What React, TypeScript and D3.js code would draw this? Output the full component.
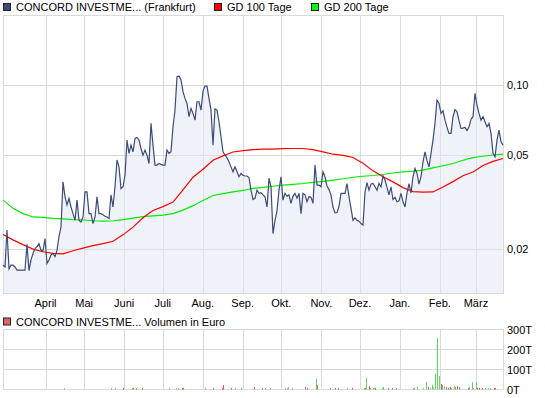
import React, { useEffect, useRef } from 'react';
import * as d3 from 'd3';

// Kurs (Frankfurt), gleichmäßig verteilt vom 27.02.2010 bis 22.03.2011
const prices = [
  0.0171, 0.0168, 0.0241, 0.0165, 0.0171, 0.0171, 0.0168, 0.0163, 0.0163, 0.0163,
  0.0163, 0.0163, 0.0210, 0.0162, 0.0180, 0.0192, 0.0201, 0.0205, 0.0211, 0.0198,
  0.0197, 0.0222, 0.0174, 0.0180, 0.0189, 0.0192, 0.0186, 0.0198, 0.0226, 0.0249,
  0.0386, 0.0334, 0.0308, 0.0329, 0.0302, 0.0283, 0.0265, 0.0323, 0.0265, 0.0261,
  0.0274, 0.0350, 0.0350, 0.0283, 0.0283, 0.0257, 0.0274, 0.0334, 0.0283, 0.0283,
  0.0280, 0.0276, 0.0274, 0.0270, 0.0340, 0.0302, 0.0368, 0.0478, 0.0447, 0.0362,
  0.0368, 0.0412, 0.0581, 0.0510, 0.0553, 0.0518, 0.0590, 0.0596, 0.0581, 0.0535,
  0.0501, 0.0527, 0.0501, 0.0462, 0.0684, 0.0553, 0.0455, 0.0455, 0.0462, 0.0458,
  0.0455, 0.0455, 0.0527, 0.0510, 0.0518, 0.0662, 0.0779, 0.1079, 0.1086, 0.1045,
  0.0932, 0.0873, 0.0831, 0.0730, 0.0792, 0.0754, 0.0706, 0.0845, 0.0845, 0.0779,
  0.0938, 0.0985, 0.0985, 0.0873, 0.0779, 0.0553, 0.0789, 0.0779, 0.0695, 0.0600,
  0.0518, 0.0501, 0.0488, 0.0470, 0.0447, 0.0426, 0.0447, 0.0426, 0.0406, 0.0419,
  0.0412, 0.0409, 0.0409, 0.0403, 0.0356, 0.0325, 0.0329, 0.0356, 0.0345, 0.0347,
  0.0340, 0.0334, 0.0302, 0.0400, 0.0368, 0.0233, 0.0265, 0.0291, 0.0356,
  0.0406, 0.0323, 0.0345, 0.0336, 0.0340, 0.0313, 0.0336, 0.0345, 0.0329, 0.0345,
  0.0283, 0.0345, 0.0340, 0.0318, 0.0334, 0.0332, 0.0313, 0.0455, 0.0374, 0.0374,
  0.0368, 0.0426, 0.0406, 0.0371, 0.0358, 0.0340, 0.0302, 0.0285, 0.0286, 0.0304,
  0.0345, 0.0345, 0.0345, 0.0380, 0.0334, 0.0298, 0.0265, 0.0272, 0.0265, 0.0263,
  0.0257, 0.0253, 0.0350, 0.0383, 0.0356, 0.0378, 0.0380, 0.0368, 0.0356, 0.0380,
  0.0368, 0.0409, 0.0393, 0.0366, 0.0340, 0.0368, 0.0325, 0.0332, 0.0318, 0.0321,
  0.0345, 0.0318, 0.0302, 0.0347, 0.0380, 0.0347, 0.0406, 0.0440, 0.0419, 0.0378,
  0.0406, 0.0470, 0.0518, 0.0475, 0.0447, 0.0510, 0.0581, 0.0684, 0.0859, 0.0831,
  0.0754, 0.0774, 0.0706, 0.0658, 0.0620, 0.0620, 0.0730, 0.0782, 0.0766, 0.0702,
  0.0651, 0.0653, 0.0658, 0.0638, 0.0662, 0.0711, 0.0730, 0.0917, 0.0818, 0.0754,
  0.0706, 0.0730, 0.0695, 0.0662, 0.0684, 0.0620, 0.0510, 0.0493, 0.0581, 0.0640,
  0.0571, 0.0553,
];

// GD 100 Tage / GD 200 Tage, gleichmäßig über den gleichen Zeitraum
const gd100 = [
  0.0231, 0.0219, 0.0209, 0.0200, 0.0195, 0.0192, 0.0191, 0.0197, 0.0202, 0.0207,
  0.0211, 0.0216, 0.0230, 0.0248, 0.0272, 0.0292, 0.0303, 0.0317, 0.0357, 0.0404,
  0.0437, 0.0477, 0.0498, 0.0517, 0.0524, 0.0529, 0.0532, 0.0532, 0.0534, 0.0535,
  0.0535, 0.0529, 0.0518, 0.0506, 0.0500, 0.0490, 0.0463, 0.0430, 0.0406, 0.0386,
  0.0365, 0.0351, 0.0349, 0.0350, 0.0367, 0.0387, 0.0410, 0.0425, 0.0453, 0.0472,
  0.0485,
];
const gd200 = [
  0.0323, 0.0298, 0.0283, 0.0274, 0.0273, 0.0270, 0.0269, 0.0267, 0.0266, 0.0264,
  0.0263, 0.0264, 0.0267, 0.0271, 0.0275, 0.0277, 0.0279, 0.0283, 0.0293, 0.0306,
  0.0322, 0.0338, 0.0344, 0.0350, 0.0355, 0.0362, 0.0366, 0.0370, 0.0374, 0.0377,
  0.0380, 0.0384, 0.0388, 0.0393, 0.0398, 0.0404, 0.0408, 0.0411, 0.0415, 0.0421,
  0.0426, 0.0429, 0.0433, 0.0443, 0.0452, 0.0462, 0.0477, 0.0489, 0.0496, 0.0502,
  0.0506,
];

// Volumen in Euro (Tausend): Tag seit Start, Wert, Richtung (u=steigend, d=fallend, n=unverändert)
const volDay = [
  47, 84, 87, 93, 100, 101, 103, 108, 129, 134, 136, 139, 140, 157, 163, 170, 171, 177, 180, 185,
  195, 201, 203, 207, 219, 220, 221, 224, 234, 236, 243, 244, 254, 258, 260, 267, 271, 280, 281, 282,
  284, 285, 287, 288, 289, 294, 295, 299, 302, 305, 318, 319, 321, 326, 328, 330, 331, 333, 334, 335,
  337, 338, 340, 341, 342, 344, 345, 347, 348, 350, 351, 352, 354, 361, 362, 364, 365, 367, 368, 369,
  372, 374, 376, 378, 381, 382,
];
const volT = [
  8, 8, 8, 8, 8, 8, 8, 8, 8, 8, 8, 8, 8, 8, 8, 8, 22, 8, 8, 8,
  13, 8, 8, 8, 8, 8, 13, 8, 13, 8, 53, 22, 8, 8, 8, 8, 8, 8, 8, 58,
  17, 8, 8, 8, 8, 8, 13, 8, 8, 8, 8, 8, 13, 8, 38, 13, 8, 23, 13, 78,
  257, 67, 27, 22, 17, 13, 8, 13, 8, 17, 13, 17, 13, 8, 13, 37, 8, 37, 8, 8,
  8, 8, 8, 8, 8, 8,
];
const volDir = [
  'u', 'u', 'u', 'd', 'u', 'd', 'u', 'd', 'u', 'u', 'u', 'd', 'd', 'u', 'd', 'd', 'd', 'd', 'u', 'u',
  'd', 'd', 'u', 'u', 'u', 'n', 'n', 'u', 'd', 'd', 'u', 'd', 'd', 'd', 'd', 'u', 'd', 'u', 'd', 'u',
  'd', 'u', 'u', 'u', 'd', 'u', 'u', 'd', 'd', 'd', 'u', 'u', 'u', 'n', 'u', 'd', 'n', 'u', 'n', 'u',
  'u', 'u', 'd', 'u', 'n', 'd', 'd', 'd', 'u', 'u', 'u', 'd', 'd', 'd', 'u', 'u', 'n', 'u', 'd', 'd',
  'd', 'u', 'u', 'u', 'd', 'd',
];

const monthLabels = ['April', 'Mai', 'Juni', 'Juli', 'Aug.', 'Sep.', 'Okt.', 'Nov.', 'Dez.', 'Jan.', 'Feb.', 'März'];
const priceTicks = [0.02, 0.05, 0.1];
const priceTickLabels = ['0,02', '0,05', '0,10'];
const volTicks = [0, 100, 200, 300];
const volTickLabels = ['0T', '100T', '200T', '300T'];

const startDate = new Date(2010, 1, 27);
const endDate = new Date(2011, 2, 22);

export default function App() {
  const svgRef = useRef(null);

  useEffect(() => {
    const width = 545;
    const height = 398;
    const left = 3, right = 503;
    const top = 15, bottom = 293;
    const vTop = 329.5, vBottom = 389.5;
    const font = '"Liberation Sans", Arial, sans-serif';
    const grid = '#dadada';

    const svg = d3.select(svgRef.current);
    svg.html('');
    svg.attr('width', width).attr('height', height);

    const x = d3.scaleTime().domain([startDate, endDate]).range([left, right]);
    const y = d3.scaleLog().domain([0.01303, 0.1973]).range([bottom, top]);
    const yv = d3.scaleLinear().domain([0, 300]).range([vBottom, vTop]);

    const span = +endDate - +startDate;
    const dateAt = (i, n) => new Date(+startDate + (i * span) / (n - 1));
    const months = d3.timeMonth.range(new Date(2010, 3, 1), endDate);

    const crisp = v => Math.round(v) + 0.5;

    // ---- Kurs-Panel ----
    const main = svg.append('g');
    main.append('rect').attr('x', left + 0.5).attr('y', top + 0.5)
      .attr('width', right - left).attr('height', bottom - top)
      .attr('fill', '#fff').attr('stroke', grid);

    main.selectAll('.vg').data(months).join('line')
      .attr('x1', d => crisp(x(d))).attr('x2', d => crisp(x(d)))
      .attr('y1', top).attr('y2', bottom).attr('stroke', grid);

    main.selectAll('.hg').data(priceTicks).join('line')
      .attr('x1', left).attr('x2', right)
      .attr('y1', d => crisp(y(d))).attr('y2', d => crisp(y(d))).attr('stroke', grid);

    const pts = prices.map((v, i) => ({ d: dateAt(i, prices.length), v }));

    const area = d3.area().x(p => x(p.d)).y0(bottom).y1(p => y(p.v));
    main.append('path').attr('d', area(pts)).attr('fill', '#dfe5f3').attr('fill-opacity', 0.5);

    const line = d3.line().x(p => x(p.d)).y(p => y(p.v));
    const maLine = (arr) => line(arr.map((v, i) => ({ d: dateAt(i, arr.length), v })));

    main.append('path').attr('d', maLine(gd200)).attr('fill', 'none').attr('stroke', '#00ee00').attr('stroke-width', 1.2);
    main.append('path').attr('d', maLine(gd100)).attr('fill', 'none').attr('stroke', '#ff0000').attr('stroke-width', 1.2);
    main.append('path').attr('d', line(pts)).attr('fill', 'none').attr('stroke', '#3c4c78').attr('stroke-width', 1.2);

    main.selectAll('.yl').data(priceTicks).join('text')
      .attr('x', right + 4).attr('y', d => y(d) + 4)
      .attr('font-family', font).attr('font-size', 11).attr('fill', '#000')
      .text((d, i) => priceTickLabels[i]);

    main.selectAll('.ml').data(months).join('text')
      .attr('x', d => x(d)).attr('y', 307)
      .attr('text-anchor', 'middle')
      .attr('font-family', font).attr('font-size', 11).attr('fill', '#000')
      .text((d, i) => monthLabels[i]);

    // Legende oben
    const legend = [
      { label: 'CONCORD INVESTME... (Frankfurt)', color: '#3c4c78', x: 3 },
      { label: 'GD 100 Tage', color: '#ff0000', x: 214 },
      { label: 'GD 200 Tage', color: '#00ff00', x: 311 },
    ];
    const lg = svg.append('g');
    lg.selectAll('rect').data(legend).join('rect')
      .attr('x', d => d.x + 0.5).attr('y', 3.5).attr('width', 7).attr('height', 7)
      .attr('fill', d => d.color).attr('stroke', '#222');
    lg.selectAll('text').data(legend).join('text')
      .attr('x', d => d.x + 13).attr('y', 10.5)
      .attr('font-family', font).attr('font-size', 11).attr('fill', '#000')
      .text(d => d.label);

    // ---- Volumen-Panel ----
    svg.append('rect').attr('x', 3.5).attr('y', 318).attr('width', 7).attr('height', 7)
      .attr('fill', '#e06666').attr('stroke', '#222');
    svg.append('text').attr('x', 16).attr('y', 325.5)
      .attr('font-family', font).attr('font-size', 11).attr('fill', '#000')
      .text('CONCORD INVESTME... Volumen in Euro');

    const vol = svg.append('g');
    vol.append('rect').attr('x', left + 0.5).attr('y', vTop)
      .attr('width', right - left).attr('height', vBottom - vTop)
      .attr('fill', '#fff').attr('stroke', grid);
    vol.selectAll('.vg').data(months).join('line')
      .attr('x1', d => crisp(x(d))).attr('x2', d => crisp(x(d)))
      .attr('y1', vTop).attr('y2', vBottom).attr('stroke', grid);
    vol.selectAll('.hg').data(volTicks).join('line')
      .attr('x1', left).attr('x2', right)
      .attr('y1', d => yv(d)).attr('y2', d => yv(d)).attr('stroke', grid);

    const dirColor = { u: '#5cd65c', d: '#e35d5d', n: '#b0b0b0' };
    vol.selectAll('.bar').data(volDay).join('rect')
      .attr('x', d => Math.round(x(d3.timeDay.offset(startDate, d))))
      .attr('width', 1)
      .attr('y', (d, i) => yv(volT[i]))
      .attr('height', (d, i) => yv(0) - yv(volT[i]))
      .attr('fill', (d, i) => dirColor[volDir[i]]);

    vol.selectAll('.vl').data(volTicks).join('text')
      .attr('x', right + 4).attr('y', d => yv(d) + 4)
      .attr('font-family', font).attr('font-size', 11).attr('fill', '#000')
      .text((d, i) => volTickLabels[i]);
  }, []);

  return (
    <div style={{ position: 'absolute', left: 0, top: 0 }}>
      <svg ref={svgRef} style={{ display: 'block' }}></svg>
    </div>
  );
}
